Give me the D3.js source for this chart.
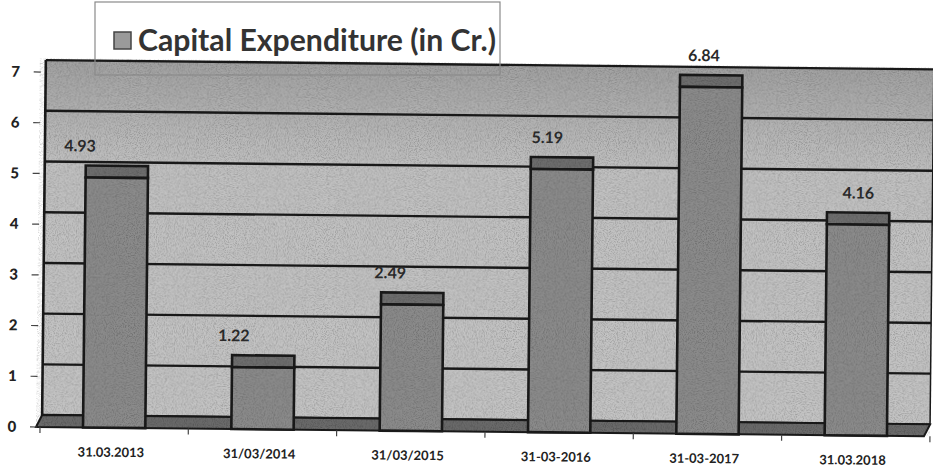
<!DOCTYPE html>
<html>
<head>
<meta charset="utf-8">
<script src="https://cdn.jsdelivr.net/npm/d3@7"></script>
<style>
  body { margin: 0; background: #fff; }
  text { font-family: Lato, "Open Sans", sans-serif; }
</style>
</head>
<body>
<div id="container"></div>
<script>
// Dados
var categories = ["31.03.2013", "31/03/2014", "31/03/2015", "31-03-2016", "31-03-2017", "31.03.2018"];
var values = [4.93, 1.22, 2.49, 5.19, 6.84, 4.16];
var valueLabels = ["4.93", "1.22", "2.49", "5.19", "6.84", "4.16"];
var yTicks = [0, 1, 2, 3, 4, 5, 6, 7];
var seriesName = "Capital Expenditure (in Cr.)";

var width = 933, height = 476;
var depthX = 6, depthY = 12;   // profundidade do efeito 3D

var svg = d3.select("#container")
  .append("svg")
  .attr("width", width)
  .attr("height", height);

var defs = svg.append("defs");

// gradiente da parede de fundo
var grad = defs.append("linearGradient")
  .attr("id", "wall")
  .attr("x1", 0).attr("y1", 0).attr("x2", 0).attr("y2", 1);
grad.append("stop").attr("offset", "0%").attr("stop-color", "#a2a2a2");
grad.append("stop").attr("offset", "14%").attr("stop-color", "#b1b1b1");
grad.append("stop").attr("offset", "30%").attr("stop-color", "#c1c1c1");
grad.append("stop").attr("offset", "100%").attr("stop-color", "#c4c4c4");

// textura de papel escaneado
var noise = defs.append("filter").attr("id", "noise")
  .attr("x", 0).attr("y", 0).attr("width", "100%").attr("height", "100%");
noise.append("feTurbulence")
  .attr("type", "fractalNoise")
  .attr("baseFrequency", 0.9)
  .attr("numOctaves", 2)
  .attr("seed", 3)
  .attr("result", "t");
noise.append("feColorMatrix")
  .attr("in", "t")
  .attr("type", "matrix")
  .attr("values", "0 0 0 0 0  0 0 0 0 0  0 0 0 0 0  3 0 0 0 -1.3")
  .attr("result", "m");
noise.append("feComposite").attr("in", "m").attr("in2", "SourceGraphic").attr("operator", "in");

// tudo levemente girado, como no scan
var g = svg.append("g")
  .attr("transform", "rotate(0.6,36,427)");

// Escalas
var x = d3.scaleBand()
  .domain(categories)
  .range([40, 930])
  .paddingInner(0.58)
  .paddingOuter(0.29);

var y = d3.scaleLinear()
  .domain([0, 7])
  .range([427, 72]);

var x0 = 36, x1 = 924;
var lineColor = "#1a1a1a";

// parede de fundo
g.append("rect")
  .attr("x", x0 + depthX)
  .attr("y", y(7) - depthY)
  .attr("width", x1 - x0)
  .attr("height", y(0) - y(7))
  .attr("fill", "url(#wall)");

// linhas de grade
g.selectAll(".grid")
  .data(yTicks)
  .enter().append("line")
  .attr("class", "grid")
  .attr("x1", x0 + depthX)
  .attr("x2", x1 + depthX)
  .attr("y1", function(d) { return y(d) - depthY })
  .attr("y2", function(d) { return y(d) - depthY })
  .attr("stroke", lineColor)
  .attr("stroke-width", 2.4);

// piso
g.append("path")
  .attr("d", "M" + x0 + "," + y(0) + "L" + x1 + "," + y(0) +
    "L" + (x1 + depthX) + "," + (y(0) - depthY) +
    "L" + (x0 + depthX) + "," + (y(0) - depthY) + "Z")
  .attr("fill", "#6a6a6a")
  .attr("stroke", lineColor)
  .attr("stroke-width", 2);

// bordas laterais
g.append("line")
  .attr("x1", x0 + depthX).attr("x2", x0 + depthX)
  .attr("y1", y(7) - depthY).attr("y2", y(0) - depthY)
  .attr("stroke", lineColor).attr("stroke-width", 2.6);
g.append("line")
  .attr("x1", x1 + depthX).attr("x2", x1 + depthX)
  .attr("y1", y(7) - depthY).attr("y2", y(0) - depthY)
  .attr("stroke", lineColor).attr("stroke-width", 1.5);

var bars = g.selectAll(".bar")
  .data(values)
  .enter().append("g")
  .attr("class", "bar");

// barras: topo
bars.append("rect")
  .attr("x", function(d, i) { return x(categories[i]) })
  .attr("y", function(d) { return y(d) - depthY })
  .attr("width", x.bandwidth())
  .attr("height", depthY)
  .attr("fill", "#6e6e6e")
  .attr("stroke", lineColor)
  .attr("stroke-width", 2.6);

// barras: frente
bars.append("rect")
  .attr("x", function(d, i) { return x(categories[i]) })
  .attr("y", function(d) { return y(d) })
  .attr("width", x.bandwidth())
  .attr("height", function(d) { return y(0) - y(d) })
  .attr("fill", "#8b8b8b")
  .attr("stroke", lineColor)
  .attr("stroke-width", 2.6);

// textura por cima
g.append("rect")
  .attr("x", x0)
  .attr("y", y(7) - depthY - 2)
  .attr("width", x1 - x0 + depthX)
  .attr("height", y(0) - y(7) + depthY + 2)
  .attr("fill", "#000")
  .attr("filter", "url(#noise)")
  .attr("opacity", 0.18);

// eixo y
g.selectAll(".ytick")
  .data(yTicks)
  .enter().append("line")
  .attr("x1", 30).attr("x2", 37)
  .attr("y1", function(d) { return y(d) })
  .attr("y2", function(d) { return y(d) })
  .attr("stroke", "#444").attr("stroke-width", 1.2);

g.selectAll(".ylabel")
  .data(yTicks)
  .enter().append("text")
  .attr("x", 12)
  .attr("y", function(d) { return y(d) + 5 })
  .attr("text-anchor", "middle")
  .attr("font-size", 15)
  .attr("font-weight", "900")
  .attr("fill", "#222")
  .text(function(d) { return d });

// eixo x: marcas entre as categorias
var step = x.step();
g.selectAll(".xtick")
  .data(d3.range(categories.length + 1))
  .enter().append("line")
  .attr("x1", function(d) { return x.range()[0] + d * step })
  .attr("x2", function(d) { return x.range()[0] + d * step })
  .attr("y1", y(0))
  .attr("y2", y(0) + 6)
  .attr("stroke", "#444").attr("stroke-width", 1.2);

g.selectAll(".xlabel")
  .data(categories)
  .enter().append("text")
  .attr("x", function(d) { return x(d) + x.bandwidth() / 2 - 3 })
  .attr("y", 456)
  .attr("text-anchor", "middle")
  .attr("font-size", 13)
  .attr("font-weight", "bold")
  .attr("fill", "#222")
  .text(function(d) { return d });

// rótulos de valor (perspectiva empurra para a esquerda)
var lastCx = x(categories[categories.length - 1]) + x.bandwidth() / 2;
g.selectAll(".vlabel")
  .data(values)
  .enter().append("text")
  .attr("x", function(d, i) {
    var cx = x(categories[i]) + x.bandwidth() / 2;
    return cx - (lastCx - cx) * 0.05;
  })
  .attr("y", function(d) { return y(d) - depthY - 14 })
  .attr("text-anchor", "middle")
  .attr("font-size", 16)
  .attr("font-weight", "bold")
  .attr("fill", "#2a2a2a")
  .text(function(d, i) { return valueLabels[i] });

// legenda
svg.append("rect")
  .attr("x", 95).attr("y", 2)
  .attr("width", 405).attr("height", 73)
  .attr("fill", "none")
  .attr("stroke", "#8a8a8a")
  .attr("stroke-width", 1.2);

svg.append("rect")
  .attr("x", 114).attr("y", 32)
  .attr("width", 17).attr("height", 17)
  .attr("fill", "#9a9a9a")
  .attr("stroke", "#444")
  .attr("stroke-width", 1.5);

svg.append("text")
  .attr("x", 138).attr("y", 51)
  .attr("font-size", 30)
  .attr("font-weight", "bold")
  .attr("fill", "#333")
  .attr("textLength", 358)
  .attr("lengthAdjust", "spacingAndGlyphs")
  .text(seriesName);
</script>
</body>
</html>
